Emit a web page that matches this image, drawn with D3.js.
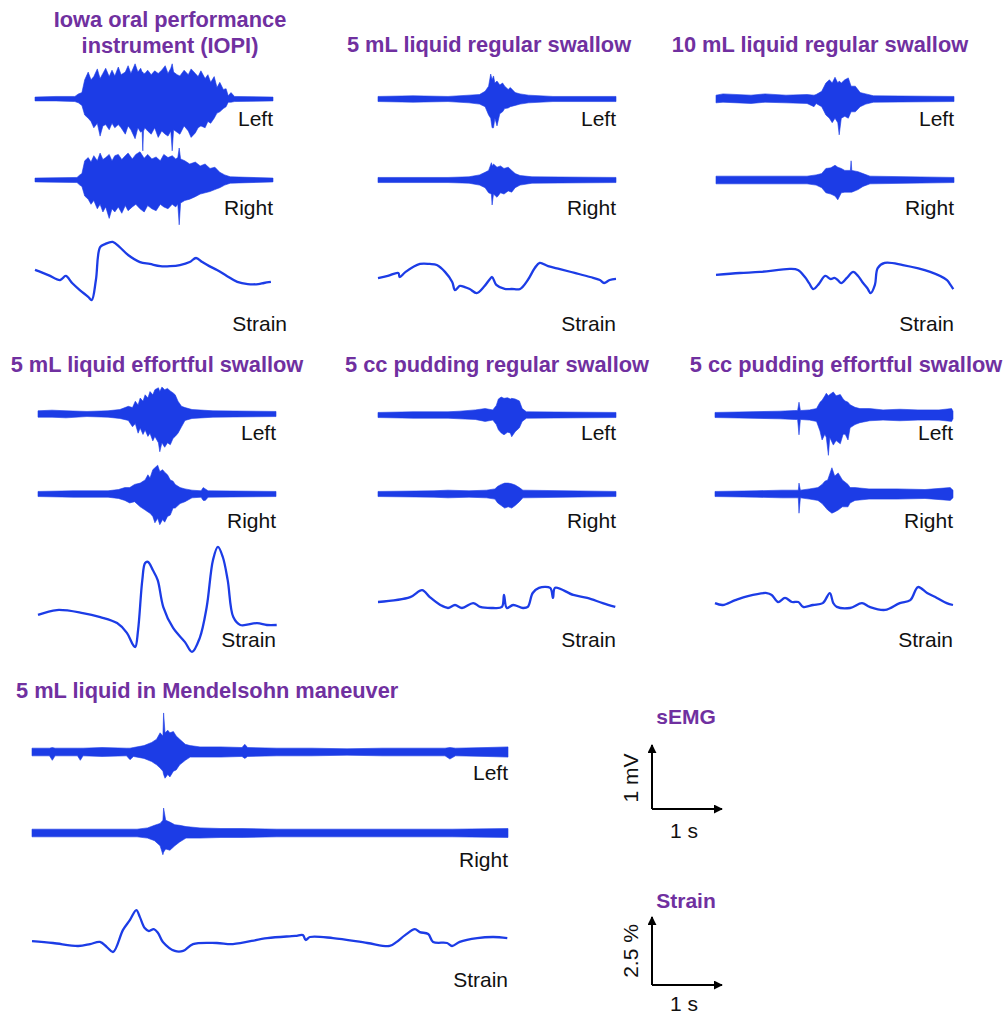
<!DOCTYPE html>
<html lang="en">
<head>
<meta charset="UTF-8" />
<title>sEMG and strain during swallowing</title>
<script src="https://cdn.jsdelivr.net/npm/d3@7/dist/d3.min.js"></script>
<style>
  body { margin: 0; background: #fff; }
  text { font-family: "Liberation Sans", Arial, sans-serif; }
</style>
</head>
<body>
<script>
// ---- data: EMG envelopes are [time s, upper mV, lower mV], strain is [time s, %] ----
const titles = [
  ["Iowa oral performance", "instrument (IOPI)"],
  ["5 mL liquid regular swallow"],
  ["10 mL liquid regular swallow"],
  ["5 mL liquid effortful swallow"],
  ["5 cc pudding regular swallow"],
  ["5 cc pudding effortful swallow"],
  ["5 mL liquid in Mendelsohn maneuver"]
];
const traceLabels = ["Left", "Right", "Strain"];

const iopiLeft = [[0,.03,.03],[0.3,.04,.03],[0.57,.04,.04],[0.62,.08,.06],[0.67,.1,.1],[0.71,.3,.25],[0.76,.42,.3],[0.8,.3,.35],[0.84,.35,.45],[0.89,.47,.38],[0.93,.32,.58],[0.97,.4,.42],[1.01,.48,.4],[1.06,.35,.48],[1.1,.45,.38],[1.14,.36,.45],[1.19,.5,.4],[1.23,.38,.45],[1.29,.42,.55],[1.33,.52,.42],[1.37,.4,.48],[1.43,.55,.62],[1.47,.42,.45],[1.51,.48,.52],[1.53,.42,.5],[1.54,.42,.81],[1.55,.4,.5],[1.57,.4,.45],[1.61,.45,.5],[1.66,.38,.55],[1.71,.44,.45],[1.76,.4,.6],[1.81,.45,.5],[1.86,.52,.55],[1.9,.4,.58],[1.94,.48,.5],[1.96,.55,.81],[1.98,.42,.48],[2.03,.38,.52],[2.07,.36,.55],[2.13,.45,.42],[2.19,.38,.5],[2.23,.47,.6],[2.29,.4,.53],[2.33,.35,.45],[2.37,.44,.42],[2.43,.32,.45],[2.47,.38,.35],[2.51,.26,.38],[2.56,.35,.3],[2.6,.18,.22],[2.64,.26,.2],[2.69,.15,.15],[2.73,.16,.12],[2.76,.05,.05],[2.8,.1,.05],[2.85,.04,.04],[3.4,.03,.03]];
const iopiRight = [[0,.03,.03],[0.6,.04,.04],[0.64,.08,.08],[0.67,.1,.1],[0.71,.3,.25],[0.76,.35,.3],[0.8,.28,.38],[0.84,.38,.32],[0.89,.3,.45],[0.93,.42,.38],[0.97,.32,.5],[1.01,.35,.42],[1.06,.4,.6],[1.1,.3,.45],[1.14,.38,.5],[1.19,.4,.42],[1.24,.32,.52],[1.29,.38,.4],[1.33,.42,.48],[1.39,.33,.42],[1.44,.4,.38],[1.5,.44,.45],[1.56,.34,.5],[1.61,.4,.4],[1.67,.33,.45],[1.73,.36,.48],[1.79,.3,.38],[1.84,.4,.42],[1.9,.35,.45],[1.96,.38,.38],[2.01,.33,.42],[2.04,.35,.38],[2.06,.5,.7],[2.08,.33,.36],[2.14,.3,.32],[2.21,.25,.3],[2.29,.28,.26],[2.36,.22,.22],[2.43,.25,.2],[2.5,.18,.18],[2.57,.2,.15],[2.64,.12,.12],[2.71,.08,.08],[2.79,.05,.05],[3.4,.03,.03]];
const iopiStrain = [[0,.48],[0.19,.29],[0.36,.11],[0.44,.26],[0.53,0],[0.64,-.26],[0.76,-.51],[0.81,-.63],[0.87,.11],[0.93,1.32],[1.0,1.43],[1.11,1.51],[1.21,1.32],[1.33,1.03],[1.5,.77],[1.64,.7],[1.79,.62],[1.93,.62],[2.07,.66],[2.21,.77],[2.3,.92],[2.39,.77],[2.49,.62],[2.6,.48],[2.74,.26],[2.89,.04],[3.04,-.04],[3.19,-.04],[3.27,0],[3.37,.04]];

const liq5Left = [[0,.04,.04],[0.5,.05,.05],[1.0,.04,.04],[1.3,.06,.06],[1.45,.07,.08],[1.53,.12,.12],[1.58,.2,.25],[1.61,.39,.3],[1.63,.3,.45],[1.65,.36,.45],[1.67,.25,.3],[1.7,.28,.42],[1.74,.22,.23],[1.78,.25,.2],[1.81,.2,.15],[1.86,.15,.14],[1.89,.18,.12],[1.96,.1,.1],[2.03,.08,.08],[2.15,.06,.06],[2.5,.04,.04],[3.4,.04,.04]];
const liq5Right = [[0,.04,.04],[1.0,.04,.04],[1.3,.05,.05],[1.45,.08,.08],[1.53,.12,.12],[1.58,.15,.2],[1.62,.27,.22],[1.63,.22,.39],[1.65,.25,.22],[1.7,.2,.27],[1.75,.22,.2],[1.8,.18,.22],[1.86,.2,.17],[1.91,.15,.19],[1.96,.1,.12],[2.03,.07,.08],[2.2,.05,.05],[3.4,.04,.04]];
const liq5Strain = [[0,.07],[0.14,.15],[0.29,.26],[0.31,.11],[0.39,.29],[0.6,.59],[0.74,.59],[0.84,.55],[0.96,.29],[1.06,-.07],[1.1,-.37],[1.17,-.22],[1.24,-.26],[1.31,-.33],[1.41,-.48],[1.51,-.26],[1.6,.04],[1.63,.11],[1.69,-.18],[1.81,-.33],[1.91,-.33],[2.03,-.33],[2.14,0],[2.24,.44],[2.31,.63],[2.43,.51],[2.6,.4],[2.81,.26],[3.03,.11],[3.17,0],[3.23,-.11],[3.31,0],[3.4,.04]];

const liq10Left = [[0,.06,.06],[0.1,.08,.05],[0.5,.06,.07],[0.7,.08,.05],[1.0,.06,.06],[1.3,.07,.07],[1.4,.06,.12],[1.43,.07,.07],[1.51,.12,.12],[1.57,.25,.25],[1.62,.3,.3],[1.66,.25,.37],[1.7,.34,.3],[1.74,.25,.37],[1.76,.28,.56],[1.79,.25,.3],[1.84,.3,.27],[1.89,.33,.3],[1.93,.2,.2],[1.99,.2,.2],[2.06,.1,.12],[2.14,.08,.08],[2.25,.05,.05],[3.4,.04,.04]];
const liq10Right = [[0,.06,.06],[0.5,.06,.06],[1.0,.06,.06],[1.3,.06,.06],[1.43,.08,.08],[1.51,.1,.12],[1.57,.18,.2],[1.64,.19,.22],[1.7,.23,.25],[1.74,.2,.31],[1.79,.18,.2],[1.84,.15,.19],[1.92,.15,.19],[1.93,.3,.19],[1.94,.15,.19],[2.03,.13,.15],[2.1,.1,.1],[2.2,.06,.06],[3.4,.04,.04]];
const liq10Strain = [[0,-.07],[0.34,0],[0.63,.04],[1.06,.15],[1.17,.11],[1.27,-.15],[1.33,-.37],[1.39,-.59],[1.47,-.4],[1.56,-.11],[1.64,-.22],[1.69,-.18],[1.74,-.26],[1.79,-.37],[1.87,-.18],[1.96,.04],[2.03,-.11],[2.09,-.33],[2.16,-.55],[2.21,-.74],[2.27,-.44],[2.31,.18],[2.41,.37],[2.67,.29],[3.06,.04],[3.3,-.26],[3.34,-.4],[3.39,-.59]];

const effLeft = [[0,.05,.05],[0.2,.06,.05],[0.4,.05,.06],[0.7,.04,.04],[1.0,.05,.05],[1.17,.07,.07],[1.29,.12,.1],[1.35,.1,.2],[1.39,.2,.15],[1.43,.14,.3],[1.46,.25,.22],[1.5,.2,.32],[1.53,.3,.25],[1.57,.25,.35],[1.6,.35,.3],[1.64,.3,.42],[1.67,.38,.35],[1.72,.41,.45],[1.74,.35,.59],[1.77,.42,.45],[1.81,.38,.52],[1.85,.4,.45],[1.89,.36,.48],[1.93,.33,.38],[1.96,.3,.35],[2.0,.2,.3],[2.05,.12,.2],[2.1,.1,.1],[2.2,.07,.07],[2.5,.05,.05],[3.4,.04,.04]];
const effRight = [[0,.04,.04],[0.5,.05,.05],[1.0,.05,.05],[1.15,.07,.07],[1.24,.1,.1],[1.31,.1,.14],[1.38,.15,.12],[1.46,.17,.2],[1.53,.22,.25],[1.57,.3,.28],[1.6,.25,.3],[1.64,.38,.35],[1.67,.41,.45],[1.71,.45,.38],[1.74,.35,.48],[1.78,.38,.4],[1.81,.34,.44],[1.85,.3,.35],[1.89,.22,.33],[1.93,.2,.22],[1.96,.15,.22],[2.03,.1,.15],[2.1,.08,.12],[2.2,.06,.06],[2.33,.05,.05],[2.36,.1,.1],[2.39,.08,.1],[2.43,.05,.05],[3.4,.04,.04]];
const effStrain = [[0,.37],[0.27,.55],[0.64,.44],[0.89,.29],[1.13,.07],[1.27,-.29],[1.36,-.74],[1.39,-.81],[1.43,-.18],[1.49,1.65],[1.53,2.28],[1.57,2.32],[1.64,2.02],[1.71,1.65],[1.79,.66],[1.93,-.11],[2.1,-.63],[2.2,-.99],[2.31,-.48],[2.41,.66],[2.5,2.39],[2.57,2.87],[2.64,2.5],[2.71,1.65],[2.79,.29],[2.89,0],[3.13,.07],[3.27,0],[3.41,0]];

const pudLeft = [[0,.04,.04],[0.5,.05,.05],[1.0,.05,.05],[1.17,.06,.06],[1.39,.08,.07],[1.53,.1,.1],[1.64,.08,.08],[1.69,.15,.15],[1.72,.25,.23],[1.76,.28,.28],[1.8,.26,.31],[1.85,.27,.27],[1.89,.25,.28],[1.91,.26,.34],[1.96,.25,.26],[2.02,.22,.2],[2.06,.1,.1],[2.12,.05,.05],[3.4,.04,.04]];
const pudRight = [[0,.04,.04],[0.8,.05,.05],[1.0,.06,.06],[1.3,.05,.05],[1.55,.06,.06],[1.67,.08,.08],[1.71,.12,.14],[1.76,.15,.18],[1.81,.17,.22],[1.86,.17,.2],[1.91,.16,.22],[1.96,.14,.18],[2.02,.1,.12],[2.07,.06,.06],[3.4,.04,.04]];
const pudStrain = [[0,.11],[0.46,.29],[0.63,.55],[0.74,.29],[0.89,0],[1.0,-.11],[1.1,0],[1.2,-.11],[1.36,.07],[1.46,-.07],[1.64,-.11],[1.77,-.07],[1.8,.37],[1.84,-.11],[1.93,0],[2.07,-.11],[2.14,-.07],[2.21,.44],[2.3,.63],[2.46,.63],[2.5,.26],[2.53,.63],[2.79,.37],[2.99,.26],[3.21,.07],[3.39,-.07]];

const pudEffLeft = [[0,.04,.04],[0.5,.05,.05],[0.93,.06,.06],[1.14,.07,.07],[1.18,.07,.07],[1.2,.2,.31],[1.22,.07,.07],[1.35,.08,.08],[1.45,.1,.1],[1.5,.2,.25],[1.53,.23,.39],[1.57,.3,.3],[1.59,.34,.35],[1.62,.3,.63],[1.64,.32,.35],[1.69,.36,.47],[1.73,.3,.4],[1.79,.32,.45],[1.83,.25,.3],[1.86,.22,.3],[1.9,.2,.39],[1.93,.16,.2],[2.0,.12,.15],[2.07,.1,.12],[2.21,.1,.09],[2.4,.08,.08],[2.64,.09,.09],[2.9,.08,.08],[3.2,.08,.08],[3.38,.1,.1],[3.4,.06,.06]];
const pudEffRight = [[0,.04,.04],[0.6,.05,.05],[0.95,.06,.06],[1.15,.06,.06],[1.19,.06,.06],[1.2,.17,.3],[1.22,.06,.06],[1.35,.08,.08],[1.47,.1,.1],[1.53,.15,.15],[1.57,.2,.2],[1.61,.22,.25],[1.67,.41,.3],[1.71,.28,.28],[1.76,.33,.25],[1.82,.22,.2],[1.9,.15,.2],[1.93,.1,.14],[2.0,.1,.1],[2.2,.08,.08],[2.6,.08,.08],[3.0,.07,.07],[3.36,.1,.1],[3.4,.06,.06]];
const pudEffStrain = [[0,.07],[0.11,0],[0.29,.18],[0.47,.33],[0.74,.44],[0.81,.37],[0.9,.11],[1.0,.26],[1.1,.11],[1.19,.11],[1.26,-.07],[1.4,0],[1.54,.07],[1.64,.44],[1.69,.07],[1.74,-.07],[1.93,-.11],[2.1,.07],[2.21,-.07],[2.43,-.18],[2.64,.07],[2.79,.18],[2.9,.66],[3.03,.44],[3.17,.26],[3.31,.07],[3.4,0]];

const mendLeft = [[0,.06,.06],[0.25,.06,.06],[0.29,.07,.13],[0.33,.06,.06],[0.65,.06,.06],[0.69,.06,.13],[0.73,.06,.06],[1.0,.07,.07],[1.35,.06,.06],[1.4,.06,.12],[1.45,.07,.07],[1.6,.1,.1],[1.71,.15,.15],[1.78,.2,.2],[1.83,.3,.25],[1.87,.25,.3],[1.88,.61,.35],[1.9,.3,.41],[1.94,.34,.35],[1.97,.3,.39],[2.02,.32,.3],[2.06,.25,.28],[2.11,.2,.2],[2.19,.12,.13],[2.26,.1,.08],[2.4,.08,.08],[2.7,.08,.08],[3.0,.07,.07],[3.04,.12,.1],[3.08,.07,.07],[3.5,.06,.06],[4.0,.06,.06],[4.5,.05,.05],[5.0,.06,.06],[5.5,.06,.06],[5.9,.06,.06],[5.97,.07,.11],[6.05,.06,.06],[6.5,.07,.07],[6.8,.08,.08]];
const mendRight = [[0,.06,.06],[0.5,.06,.06],[1.0,.06,.06],[1.5,.06,.06],[1.65,.08,.08],[1.75,.12,.12],[1.83,.15,.2],[1.87,.2,.34],[1.88,.39,.3],[1.91,.2,.25],[1.97,.17,.27],[2.04,.13,.2],[2.11,.12,.14],[2.2,.1,.08],[2.4,.08,.08],[2.7,.07,.07],[3.0,.07,.07],[3.5,.06,.06],[4.0,.06,.06],[5.0,.06,.06],[6.0,.06,.06],[6.8,.07,.07]];
const mendStrain = [[0,-.04],[0.3,-.11],[0.66,-.22],[0.83,-.15],[0.97,-.07],[1.07,-.26],[1.16,-.44],[1.3,.37],[1.4,.74],[1.49,1.1],[1.54,.85],[1.61,.44],[1.67,.33],[1.74,.4],[1.8,.26],[1.87,-.07],[2.04,-.4],[2.16,-.4],[2.3,-.15],[2.64,-.11],[2.87,-.15],[3.36,.07],[3.76,.15],[3.87,.18],[3.91,0],[3.97,.11],[4.3,.07],[4.79,-.11],[5.11,-.22],[5.21,-.07],[5.33,.18],[5.47,.4],[5.54,.29],[5.66,.22],[5.73,-.07],[5.93,-.11],[6.0,-.22],[6.11,-.07],[6.36,.07],[6.59,.11],[6.79,.07]];

// scale bar values
const scaleBarTitles = ["sEMG", "Strain"];
const scaleBarV = ["1 mV", "2.5 %"];
const scaleBarH = "1 s";

// ---- layout ----
const BLUE = "#1c3ce6", PURPLE = "#7030a0";
const PX_S = 70, PX_MV = 64, PX_PCT = 68 / 2.5;

const panels = [
  { left: iopiLeft, right: iopiRight, strain: iopiStrain, dur: 3.4, x0: 35, yl: 99, yr: 180, ys: 283,
    tx: 170, ty: 27, lab: [126, 215, 331], strainDx: 14 },
  { left: liq5Left, right: liq5Right, strain: liq5Strain, dur: 3.4, x0: 378, yl: 99, yr: 180, ys: 280,
    tx: 489, ty: 52, lab: [126, 215, 331], strainDx: 0 },
  { left: liq10Left, right: liq10Right, strain: liq10Strain, dur: 3.4, x0: 716, yl: 99, yr: 180, ys: 273,
    tx: 820, ty: 52, lab: [126, 215, 331], strainDx: 0 },
  { left: effLeft, right: effRight, strain: effStrain, dur: 3.4, x0: 38, yl: 414, yr: 494, ys: 625,
    tx: 157, ty: 372, lab: [440, 528, 647], strainDx: 0 },
  { left: pudLeft, right: pudRight, strain: pudStrain, dur: 3.4, x0: 378, yl: 415, yr: 494, ys: 605,
    tx: 497, ty: 372, lab: [440, 528, 647], strainDx: 0 },
  { left: pudEffLeft, right: pudEffRight, strain: pudEffStrain, dur: 3.4, x0: 715, yl: 415, yr: 494, ys: 605,
    tx: 846, ty: 372, lab: [440, 528, 647], strainDx: 0 },
  { left: mendLeft, right: mendRight, strain: mendStrain, dur: 6.8, x0: 32, yl: 752, yr: 833, ys: 940,
    tx: 208, ty: 698, lab: [780, 867, 987], strainDx: 0 }
];

const svg = d3.select("body").append("svg")
  .attr("width", 1008).attr("height", 1015)
  .style("background", "#fff");

panels.forEach(function (p, i) {
  const g = svg.append("g");
  const x = d3.scaleLinear().domain([0, p.dur]).range([p.x0, p.x0 + p.dur * PX_S]);
  const emgY = [p.yl, p.yr].map(function (b) {
    return d3.scaleLinear().domain([-1, 1]).range([b + PX_MV, b - PX_MV]);
  });
  const sY = d3.scaleLinear().domain([-1, 1]).range([p.ys + PX_PCT, p.ys - PX_PCT]);

  [p.left, p.right].forEach(function (d, k) {
    const y = emgY[k];
    const area = d3.area()
      .x(function (d) { return x(d[0]); })
      .y0(function (d) { return y(-d[2]); })
      .y1(function (d) { return y(d[1]); });
    g.append("path").datum(d).attr("d", area)
      .attr("fill", BLUE).attr("stroke", BLUE).attr("stroke-width", 0.6)
      .attr("stroke-linejoin", "round");
  });

  const line = d3.line()
    .curve(d3.curveCatmullRom.alpha(0.5))
    .x(function (d) { return x(d[0]); })
    .y(function (d) { return sY(d[1]); });
  g.append("path").datum(p.strain).attr("d", line)
    .attr("fill", "none").attr("stroke", BLUE).attr("stroke-width", 2.3)
    .attr("stroke-linejoin", "round");

  const tx = i === 6 ? 16 : p.tx;
  const title = g.append("text")
    .attr("text-anchor", i === 6 ? "start" : "middle")
    .attr("x", tx).attr("y", p.ty)
    .attr("fill", PURPLE).attr("font-weight", "bold").attr("font-size", 21.8);
  titles[i].forEach(function (t, j) {
    title.append("tspan").attr("x", tx).attr("dy", j === 0 ? 0 : 26).text(t);
  });

  traceLabels.forEach(function (t, k) {
    g.append("text")
      .attr("x", x(p.dur) + (k === 2 ? p.strainDx : 0))
      .attr("y", p.lab[k])
      .attr("text-anchor", "end").attr("font-size", 21).attr("fill", "#111")
      .text(t);
  });
});

// ---- scale bars ----
svg.append("defs").append("marker")
  .attr("id", "arrow").attr("viewBox", "0 0 10 10")
  .attr("refX", 9).attr("refY", 5)
  .attr("markerWidth", 4.5).attr("markerHeight", 4.5)
  .attr("markerUnits", "strokeWidth").attr("orient", "auto")
  .append("path").attr("d", "M0,0L10,5L0,10z").attr("fill", "#000");

const bars = [
  { ox: 652, oy: 809, len: PX_MV * 1, titleY: 724, vY: 778, hY: 838 },
  { ox: 652, oy: 985, len: PX_PCT * 2.5, titleY: 908, vY: 951, hY: 1011 }
];
bars.forEach(function (b, i) {
  const g = svg.append("g");
  g.append("line").attr("x1", b.ox).attr("y1", b.oy).attr("x2", b.ox).attr("y2", b.oy - b.len)
    .attr("stroke", "#000").attr("stroke-width", 2).attr("marker-end", "url(#arrow)");
  g.append("line").attr("x1", b.ox).attr("y1", b.oy).attr("x2", b.ox + PX_S).attr("y2", b.oy)
    .attr("stroke", "#000").attr("stroke-width", 2).attr("marker-end", "url(#arrow)");
  g.append("text").attr("x", 686).attr("y", b.titleY).attr("text-anchor", "middle")
    .attr("font-weight", "bold").attr("font-size", 21).attr("fill", PURPLE)
    .text(scaleBarTitles[i]);
  g.append("text").attr("transform", "translate(638," + b.vY + ") rotate(-90)")
    .attr("text-anchor", "middle").attr("font-size", 21).attr("fill", "#111")
    .text(scaleBarV[i]);
  g.append("text").attr("x", 684).attr("y", b.hY).attr("text-anchor", "middle")
    .attr("font-size", 21).attr("fill", "#111").text(scaleBarH);
});
</script>
</body>
</html>
